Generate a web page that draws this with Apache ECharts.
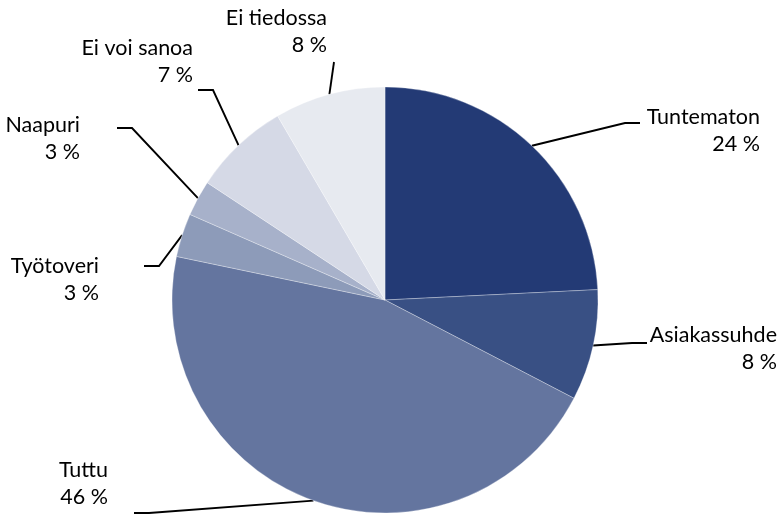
<!DOCTYPE html>
<html><head><meta charset="utf-8">
<script src="https://cdn.jsdelivr.net/npm/echarts@6/dist/echarts.min.js"></script>
<style>html,body{margin:0;padding:0;background:#fff}#c{width:780px;height:515px}</style>
</head><body><div id="c"></div>
<script>
const categories = ['Tuntematon', 'Asiakassuhde', 'Tuttu', 'Työtoveri', 'Naapuri', 'Ei voi sanoa', 'Ei tiedossa'];
const shares = [24.2, 8.4, 45.6, 3.3, 2.7, 7.3, 8.4];
const colors = ['#233a75', '#395084', '#64759f', '#8d9bb9', '#a7b1ca', '#d5d9e6', '#e7eaf0'];

// label placement (annotation layout only): text right edge, first-line centre, leader tail
const labelBox = [
  { right: 760, cy: 117, tail: [640, 123], side: 1 },
  { right: 777, cy: 335, tail: [647, 343], side: 1 },
  { right: 108, cy: 470, tail: [134, 513], side: -1 },
  { right: 99, cy: 266, tail: [144, 266], side: -1 },
  { right: 80, cy: 125, tail: [117, 128], side: -1 },
  { right: 193, cy: 48, tail: [198, 90], side: -1 },
  { right: 327, cy: 18, tail: [334, 62], side: 0 }
];
const LINE_H = 27;

const chart = echarts.init(document.getElementById('c'), null, { renderer: 'canvas' });
chart.setOption({
  animation: false,
  backgroundColor: '#ffffff',
  series: [{
    type: 'pie',
    center: [385, 300],
    radius: 213,
    startAngle: 90,
    clockwise: true,
    avoidLabelOverlap: false,
    data: categories.map((n, i) => ({ name: n, value: shares[i], itemStyle: { color: colors[i] } })),
    itemStyle: { borderColor: 'rgba(255,255,255,0.6)', borderWidth: 0.5 },
    label: {
      show: true,
      position: 'outside',
      formatter: p => '{a|' + p.name + '}\n{a|' + Math.round(p.value) + ' %}',
      rich: { a: { fontFamily: 'Lato', fontSize: 21.5, color: '#000', lineHeight: LINE_H, align: 'right' } }
    },
    labelLine: { show: true, length: 10, length2: 10, lineStyle: { color: '#000', width: 1.9 } },
    emphasis: { disabled: true },
    labelLayout: function (params) {
      const b = labelBox[params.dataIndex];
      const start = params.labelLinePoints ? params.labelLinePoints[0] : b.tail;
      const elbow = [b.tail[0] - b.side * 15, b.tail[1]];
      return {
        x: b.right,
        y: b.cy - LINE_H / 2,
        align: 'right',
        verticalAlign: 'top',
        labelLinePoints: [start, elbow, b.tail]
      };
    }
  }]
});
</script>
</body></html>
